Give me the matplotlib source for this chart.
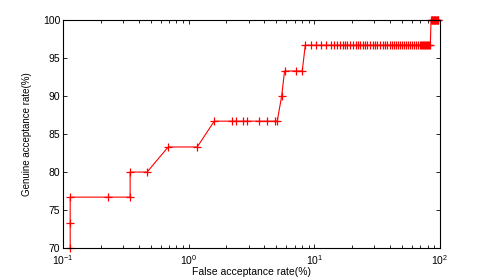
import matplotlib
matplotlib.use("Agg")
import matplotlib.pyplot as plt
from matplotlib.ticker import LogLocator, NullFormatter

plt.rcParams['font.family'] = ['Liberation Sans', 'DejaVu Sans']

# ROC points (FAR %, GAR %)
far = [0.114, 0.114, 0.114, 0.228, 0.342, 0.342, 0.467, 0.687, 1.17,
       1.60, 2.22, 2.39, 2.72, 2.92, 3.65, 4.22, 4.89, 5.07,
       5.5, 5.8, 7.19, 8.02,
       8.48, 9.47, 10.4, 11.4, 12.5, 13.7, 14.4, 15.2, 16.1, 17.0, 17.7, 18.3,
       19.4, 20.5, 21.6, 22.4, 23.3, 24.6, 25.5, 26.4, 27.9, 29.5, 30.6, 31.8,
       33.6, 35.5, 36.8, 38.2, 40.3, 41.9, 43.4, 45.0, 46.7, 48.4, 50.2, 52.1,
       54.1, 56.1, 58.2, 60.4, 62.7, 65.0, 67.5, 70.0, 71.3, 72.6, 74.0, 75.2,
       76.6, 78.0, 79.4, 80.9, 82.4, 83.9,
       85, 86, 87, 88, 89, 90, 91, 92, 93, 94, 95, 96, 97]
gar = [70.0, 73.3, 76.7, 76.7, 76.7, 80.0, 80.0, 83.3, 83.3,
       86.7, 86.7, 86.7, 86.7, 86.7, 86.7, 86.7, 86.7, 86.7,
       90.0, 93.3, 93.3, 93.3] + [96.7] * 54 + [100.0] * 13

fig = plt.figure(figsize=(4.85, 2.79), dpi=100)
ax = fig.add_axes([0.130, 0.111, 0.777, 0.817])

ax.semilogx(far, gar, color='red', lw=0.8, marker='+', ms=5.5, mew=0.9,
            clip_on=False)

ax.set_xlim(0.1, 100)
ax.set_ylim(70, 100)
ax.set_yticks([70, 75, 80, 85, 90, 95, 100])
ax.xaxis.set_major_locator(LogLocator(base=10, numticks=10))
ax.xaxis.set_minor_locator(LogLocator(base=10, subs=range(2, 10), numticks=10))
ax.xaxis.set_minor_formatter(NullFormatter())

ax.tick_params(which='both', direction='in', top=True, right=True,
               labelsize=7.5, width=0.6)
ax.tick_params(axis='x', pad=4)
ax.tick_params(axis='y', pad=2)
ax.tick_params(which='major', length=3)
ax.tick_params(which='minor', length=2)
for s in ax.spines.values():
    s.set_linewidth(0.8)

ax.set_xlabel('False acceptance rate(%)', fontsize=7.5, labelpad=0)
ax.set_ylabel('Genuine acceptance rate(%)', fontsize=7, labelpad=8)

fig.savefig('out.png', dpi=100)
